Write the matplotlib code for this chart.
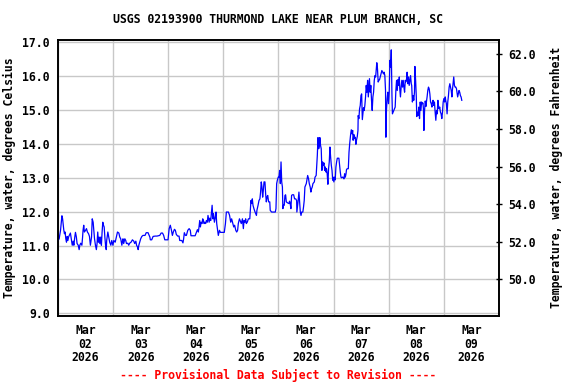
import matplotlib
matplotlib.use("Agg")
import matplotlib.pyplot as plt
import matplotlib.dates as mdates
from datetime import datetime, timedelta

# ---- data (hours since 2026-03-02 00:00, water temperature in deg C) ----
hours = [
    0.0, 0.5, 1.1, 1.7, 2.0, 2.2, 2.5, 2.8, 3.1, 3.4, 3.7, 4.0, 4.3, 4.6, 4.9, 5.4, 5.9, 6.2, 6.6, 6.9,
    7.3, 7.6, 8.0, 8.3, 8.8, 9.2, 9.5, 9.9, 10.4, 10.7, 10.9, 11.2, 11.5, 12.0, 12.4, 12.8, 13.3, 13.7, 14.1, 14.6,
    14.9, 15.3, 15.6, 15.9, 16.3, 16.7, 17.0, 17.3, 17.6, 17.9, 18.2, 18.6, 18.9, 19.2, 19.5, 19.8, 20.1, 20.4, 20.7, 21.0,
    21.2, 21.7, 22.1, 22.5, 23.0, 23.4, 23.9, 24.3, 24.9, 25.4, 25.9, 26.5, 26.9, 27.3, 27.8, 28.1, 28.3, 28.6, 29.1, 29.5,
    29.8, 30.4, 30.8, 31.2, 31.8, 32.4, 33.0, 33.4, 33.9, 34.2, 34.6, 34.9, 35.2, 35.6, 36.0, 36.5, 37.0, 37.9, 38.4, 39.2,
    40.0, 40.2, 40.8, 41.4, 42.3, 43.1, 44.3, 44.9, 45.5, 46.0, 46.5, 47.9, 48.4, 48.9, 49.4, 49.8, 50.2, 50.7, 51.1, 51.5,
    52.1, 52.7, 53.0, 53.9, 54.4, 54.7, 55.0, 55.5, 55.9, 56.5, 57.1, 57.6, 57.9, 58.8, 59.7, 60.3, 60.7, 61.1, 61.4, 61.7,
    62.0, 62.3, 62.7, 63.0, 63.3, 63.6, 63.9, 64.3, 64.6, 65.0, 65.3, 65.8, 66.1, 66.5, 66.8, 67.1, 67.4, 67.7, 68.1, 68.5,
    68.8, 69.1, 69.5, 69.8, 70.3, 70.7, 71.9, 72.4, 72.9, 73.3, 74.2, 74.7, 75.2, 75.6, 76.1, 76.5, 76.9, 77.4, 77.8, 78.2,
    78.5, 79.0, 79.4, 79.8, 80.3, 80.7, 81.0, 81.4, 81.7, 82.0, 82.4, 82.9, 83.5, 83.7, 84.0, 84.3, 84.6, 84.9, 85.3, 85.8,
    86.4, 86.6, 87.1, 87.5, 87.9, 88.2, 88.5, 88.8, 89.1, 89.4, 89.7, 90.1, 90.4, 90.7, 91.0, 91.3, 91.7, 92.2, 92.4, 93.0,
    93.9, 94.6, 94.9, 95.2, 95.5, 95.9, 96.2, 96.5, 96.8, 97.1, 97.4, 97.7, 97.9, 98.2, 98.5, 98.8, 99.1, 99.4, 100.0, 100.6,
    100.8, 101.1, 101.4, 101.7, 102.0, 102.6, 103.0, 103.5, 103.9, 104.0, 104.5, 104.9, 105.2, 105.5, 105.8, 106.1, 106.6, 106.9, 107.2, 107.5,
    107.8, 108.1, 108.7, 109.1, 109.4, 109.8, 110.1, 110.4, 110.7, 111.0, 111.6, 111.9, 112.4, 112.9, 113.2, 113.5, 113.8, 114.0, 114.3, 114.6,
    114.9, 115.2, 115.5, 115.8, 116.1, 116.4, 116.7, 116.9, 117.2, 117.5, 117.8, 118.1, 118.4, 118.7, 119.0, 119.3, 119.6, 119.8, 120.1, 120.4,
    120.7, 121.0, 121.3, 121.6, 122.3, 122.6, 122.9, 123.2, 123.5, 123.8, 124.1, 124.5, 124.8, 125.1, 125.4, 125.6, 125.9, 126.4, 126.7, 127.0,
    127.4, 127.7, 128.0, 128.3, 128.5, 128.8, 129.1, 129.4, 129.7, 130.0, 130.3, 130.6, 130.7, 131.0, 131.3, 131.6, 131.9, 132.2, 132.5, 132.8,
    133.0, 133.3, 133.6, 133.9, 134.2, 134.5, 134.8, 135.1, 135.4, 135.6, 135.9, 136.2, 136.5, 136.8, 137.1, 137.4, 137.7, 138.0, 138.3, 138.6,
    138.8, 139.1, 139.4, 139.7, 140.0, 140.3, 140.6, 141.0, 141.4, 141.7, 142.0, 142.3, 142.6, 142.75, 143.0, 143.3, 143.6, 143.9, 144.2, 144.5,
    144.8, 145.1, 145.4, 145.6, 145.9, 146.2, 146.8, 147.1, 147.4, 147.7, 148.0, 148.3, 148.6, 148.8, 149.1, 149.4, 149.7, 150.0, 150.3, 150.6,
    150.9, 151.2, 151.4, 151.7, 152.0, 152.3, 152.6, 152.9, 153.2, 153.5, 153.8, 154.0, 154.3, 154.6, 154.9, 155.2, 155.4, 155.7, 156.0, 156.2,
    156.5, 156.8, 157.1, 157.4, 157.7, 158.0, 158.3, 158.6, 158.9, 159.1, 159.3, 159.6, 159.9, 160.2, 160.4, 160.7, 161.0, 161.3, 161.6, 161.9,
    162.2, 162.5, 162.8, 163.0, 163.3, 163.6, 163.9, 164.2, 164.5, 164.8, 165.1, 165.4, 165.7, 165.9, 166.2, 166.5, 166.8, 167.1, 167.4, 167.7,
    168.0, 168.3, 168.6, 168.8, 169.1, 169.4, 169.7, 170.0, 170.3, 170.6, 170.9, 171.2, 171.5, 171.7, 172.0, 172.3, 172.6, 172.9, 173.2, 173.5,
    173.8, 174.0, 174.3, 174.6, 174.9, 175.2, 175.5, 175.8,
]
temp_c = [
    11.15, 11.20, 11.45, 11.88, 11.79, 11.65, 11.47, 11.35, 11.40, 11.20, 11.10, 11.27, 11.15, 11.25, 11.30, 11.37, 11.15, 11.01, 11.13, 11.01,
    11.25, 11.39, 11.25, 11.06, 11.01, 10.88, 11.01, 11.07, 11.01, 11.25, 11.45, 11.60, 11.40, 11.45, 11.50, 11.40, 11.35, 11.27, 11.01, 11.25,
    11.79, 11.69, 11.45, 11.20, 11.01, 10.88, 11.06, 11.40, 11.10, 11.25, 11.06, 11.25, 11.01, 11.40, 11.69, 11.60, 11.55, 11.25, 11.01, 10.88,
    11.15, 11.40, 11.25, 11.10, 11.01, 11.15, 11.01, 11.15, 11.10, 11.25, 11.40, 11.37, 11.25, 11.20, 11.01, 11.15, 11.20, 11.06, 11.20, 11.15,
    11.06, 11.07, 11.01, 11.07, 11.10, 11.17, 11.13, 11.06, 11.13, 11.01, 10.96, 10.88, 11.01, 11.10, 11.20, 11.27, 11.30, 11.30, 11.38, 11.38,
    11.25, 11.17, 11.17, 11.27, 11.28, 11.28, 11.30, 11.37, 11.37, 11.30, 11.17, 11.17, 11.50, 11.60, 11.45, 11.30, 11.40, 11.48, 11.45, 11.33,
    11.28, 11.28, 11.15, 11.15, 11.08, 11.20, 11.38, 11.30, 11.30, 11.45, 11.50, 11.45, 11.29, 11.29, 11.29, 11.40, 11.47, 11.40, 11.55, 11.74,
    11.55, 11.69, 11.65, 11.79, 11.74, 11.65, 11.69, 11.65, 11.74, 11.69, 11.89, 11.69, 11.81, 11.74, 11.96, 12.19, 11.79, 11.94, 11.69, 11.84,
    11.99, 11.65, 11.45, 11.30, 11.45, 11.39, 11.39, 11.39, 11.65, 11.99, 11.99, 11.89, 11.69, 11.79, 11.65, 11.55, 11.60, 11.45, 11.40, 11.45,
    11.65, 11.79, 11.72, 11.65, 11.79, 11.50, 11.74, 11.69, 11.79, 11.65, 11.69, 11.79, 11.79, 11.99, 12.33, 12.24, 12.38, 12.19, 12.09, 11.99,
    11.89, 12.04, 12.19, 12.33, 12.38, 12.58, 12.88, 12.73, 12.43, 12.63, 12.88, 12.88, 12.53, 12.29, 12.43, 12.48, 12.29, 12.29, 12.04, 11.99,
    11.99, 11.99, 12.09, 12.83, 12.93, 13.02, 13.02, 13.22, 12.83, 13.47, 12.88, 12.73, 12.09, 12.19, 12.19, 12.48, 12.50, 12.29, 12.26, 12.24,
    12.31, 12.24, 12.09, 12.48, 12.50, 12.50, 12.38, 12.38, 12.33, 11.99, 12.29, 12.58, 12.29, 11.99, 11.89, 11.99, 11.99, 12.14, 12.33, 12.73,
    12.78, 12.83, 13.07, 12.97, 12.83, 12.73, 12.58, 12.68, 12.73, 12.83, 12.88, 13.02, 13.07, 13.66, 14.19, 13.86, 13.96, 14.19, 13.96, 13.86,
    13.22, 13.47, 13.37, 13.44, 13.22, 13.32, 13.17, 13.27, 13.12, 12.81, 13.27, 13.47, 13.91, 13.61, 13.37, 13.22, 12.93, 13.02, 12.88, 13.02,
    12.94, 13.32, 13.47, 13.58, 13.58, 13.37, 13.17, 13.02, 13.00, 13.02, 13.02, 12.97, 13.12, 13.02, 13.12, 13.24, 13.27, 13.27, 13.76, 14.01,
    14.28, 14.42, 14.30, 14.40, 14.11, 14.28, 14.16, 14.20, 13.99, 14.13, 14.22, 14.40, 14.84, 14.75, 15.04, 15.14, 15.43, 15.48, 14.72, 14.94,
    15.07, 14.99, 15.14, 15.39, 15.73, 15.53, 15.88, 15.39, 15.73, 15.93, 15.53, 15.73, 15.29, 14.99, 15.39, 15.53, 15.88, 16.02, 15.98, 16.22,
    16.40, 16.22, 15.83, 15.88, 15.90, 15.98, 16.07, 16.17, 16.12, 16.07, 16.12, 16.02, 15.58, 14.20, 14.99, 15.34, 15.53, 15.19, 15.53, 16.47,
    16.27, 16.78, 15.43, 14.89, 14.94, 14.99, 15.09, 15.58, 15.88, 15.58, 15.90, 15.73, 15.98, 15.63, 15.39, 15.68, 15.88, 15.68, 15.88, 15.68,
    15.53, 15.88, 15.83, 15.88, 16.12, 15.78, 15.98, 15.73, 15.88, 16.02, 15.78, 15.73, 15.24, 15.43, 15.29, 15.53, 16.29, 15.88, 15.39, 14.81,
    14.94, 14.84, 15.09, 14.75, 15.24, 14.99, 15.24, 15.19, 15.21, 15.04, 14.40, 14.99, 15.27, 15.11, 15.24, 15.39, 15.58, 15.68, 15.63, 15.48,
    15.24, 15.19, 15.09, 15.24, 15.29, 15.14, 15.24, 14.94, 14.70, 14.99, 14.89, 15.29, 15.11, 15.04, 15.09, 14.94, 14.89, 14.75, 14.94, 15.24,
    15.34, 15.24, 15.39, 15.29, 15.19, 14.89, 15.24, 15.43, 15.68, 15.78, 15.68, 15.58, 15.39, 15.58, 15.78, 15.98, 15.73, 15.68, 15.68, 15.63,
    15.48, 15.39, 15.48, 15.58, 15.53, 15.43, 15.39, 15.29,
]

day_labels = ["Mar\n02\n2026", "Mar\n03\n2026", "Mar\n04\n2026", "Mar\n05\n2026",
              "Mar\n06\n2026", "Mar\n07\n2026", "Mar\n08\n2026", "Mar\n09\n2026"]
c_ticks = [9.0, 10.0, 11.0, 12.0, 13.0, 14.0, 15.0, 16.0, 17.0]
f_ticks = [50.0, 52.0, 54.0, 56.0, 58.0, 60.0, 62.0]

title = "USGS 02193900 THURMOND LAKE NEAR PLUM BRANCH, SC"
ylabel_left = "Temperature, water, degrees Celsius"
ylabel_right = "Temperature, water, degrees Fahrenheit"
footer = "---- Provisional Data Subject to Revision ----"

# ---- plotting ----
FONT = "DejaVu Sans Mono"
FS = 8.3
plt.rcParams["font.family"] = FONT
plt.rcParams["font.weight"] = "bold"

start = datetime(2026, 3, 2)
times = [start + timedelta(hours=h) for h in hours]

fig = plt.figure(figsize=(5.76, 3.84), dpi=100)
ax = fig.add_axes([0.1007, 0.1771, 0.7656, 0.7195])

ax.plot(times, temp_c, color="#0000ff", linewidth=0.9, zorder=3)

ax.set_xlim(start, start + timedelta(days=8))
ylo, yhi = 8.92, 17.08
ax.set_ylim(ylo, yhi)

midnights = [start + timedelta(days=d) for d in range(9)]
noons = [start + timedelta(days=d, hours=12) for d in range(8)]
ax.set_xticks(mdates.date2num(midnights))
ax.set_xticklabels([""] * len(midnights))
ax.set_xticks(mdates.date2num(noons), minor=True)
ax.set_xticklabels(day_labels, minor=True, fontsize=FS, fontweight="bold",
                   linespacing=1.02)
ax.tick_params(axis="x", which="both", length=0, pad=6)

ax.set_yticks(c_ticks)
ax.set_yticklabels([f"{v:.1f}" for v in c_ticks], fontsize=FS, fontweight="bold")
ax.tick_params(axis="y", length=0, pad=6)

ax.grid(True, which="major", color="#c8c8c8", linewidth=1.0)
ax.set_axisbelow(True)
for s in ax.spines.values():
    s.set_linewidth(1.2)
    s.set_color("black")

ax.set_ylabel(ylabel_left, fontsize=FS, fontweight="bold")
ax.yaxis.set_label_coords(-0.095, 0.5)

ax2 = ax.twinx()
ax2.set_ylim(ylo * 1.8 + 32, yhi * 1.8 + 32)
ax2.set_yticks(f_ticks)
ax2.set_yticklabels([f"{v:.1f}" for v in f_ticks], fontsize=FS, fontweight="bold")
ax2.tick_params(axis="y", direction="inout", length=5, width=1, pad=4)
ax2.set_ylabel(ylabel_right, fontsize=FS, fontweight="bold")
ax2.yaxis.set_label_coords(1.116, 0.5)
for s in ax2.spines.values():
    s.set_linewidth(1.2)

fig.text(0.483, 0.9505, title, ha="center", va="center", fontsize=FS, fontweight="bold")
fig.text(0.483, 0.0234, footer, ha="center", va="center", fontsize=FS,
         fontweight="bold", color="#ff0000")

fig.savefig("out.png", dpi=100)
